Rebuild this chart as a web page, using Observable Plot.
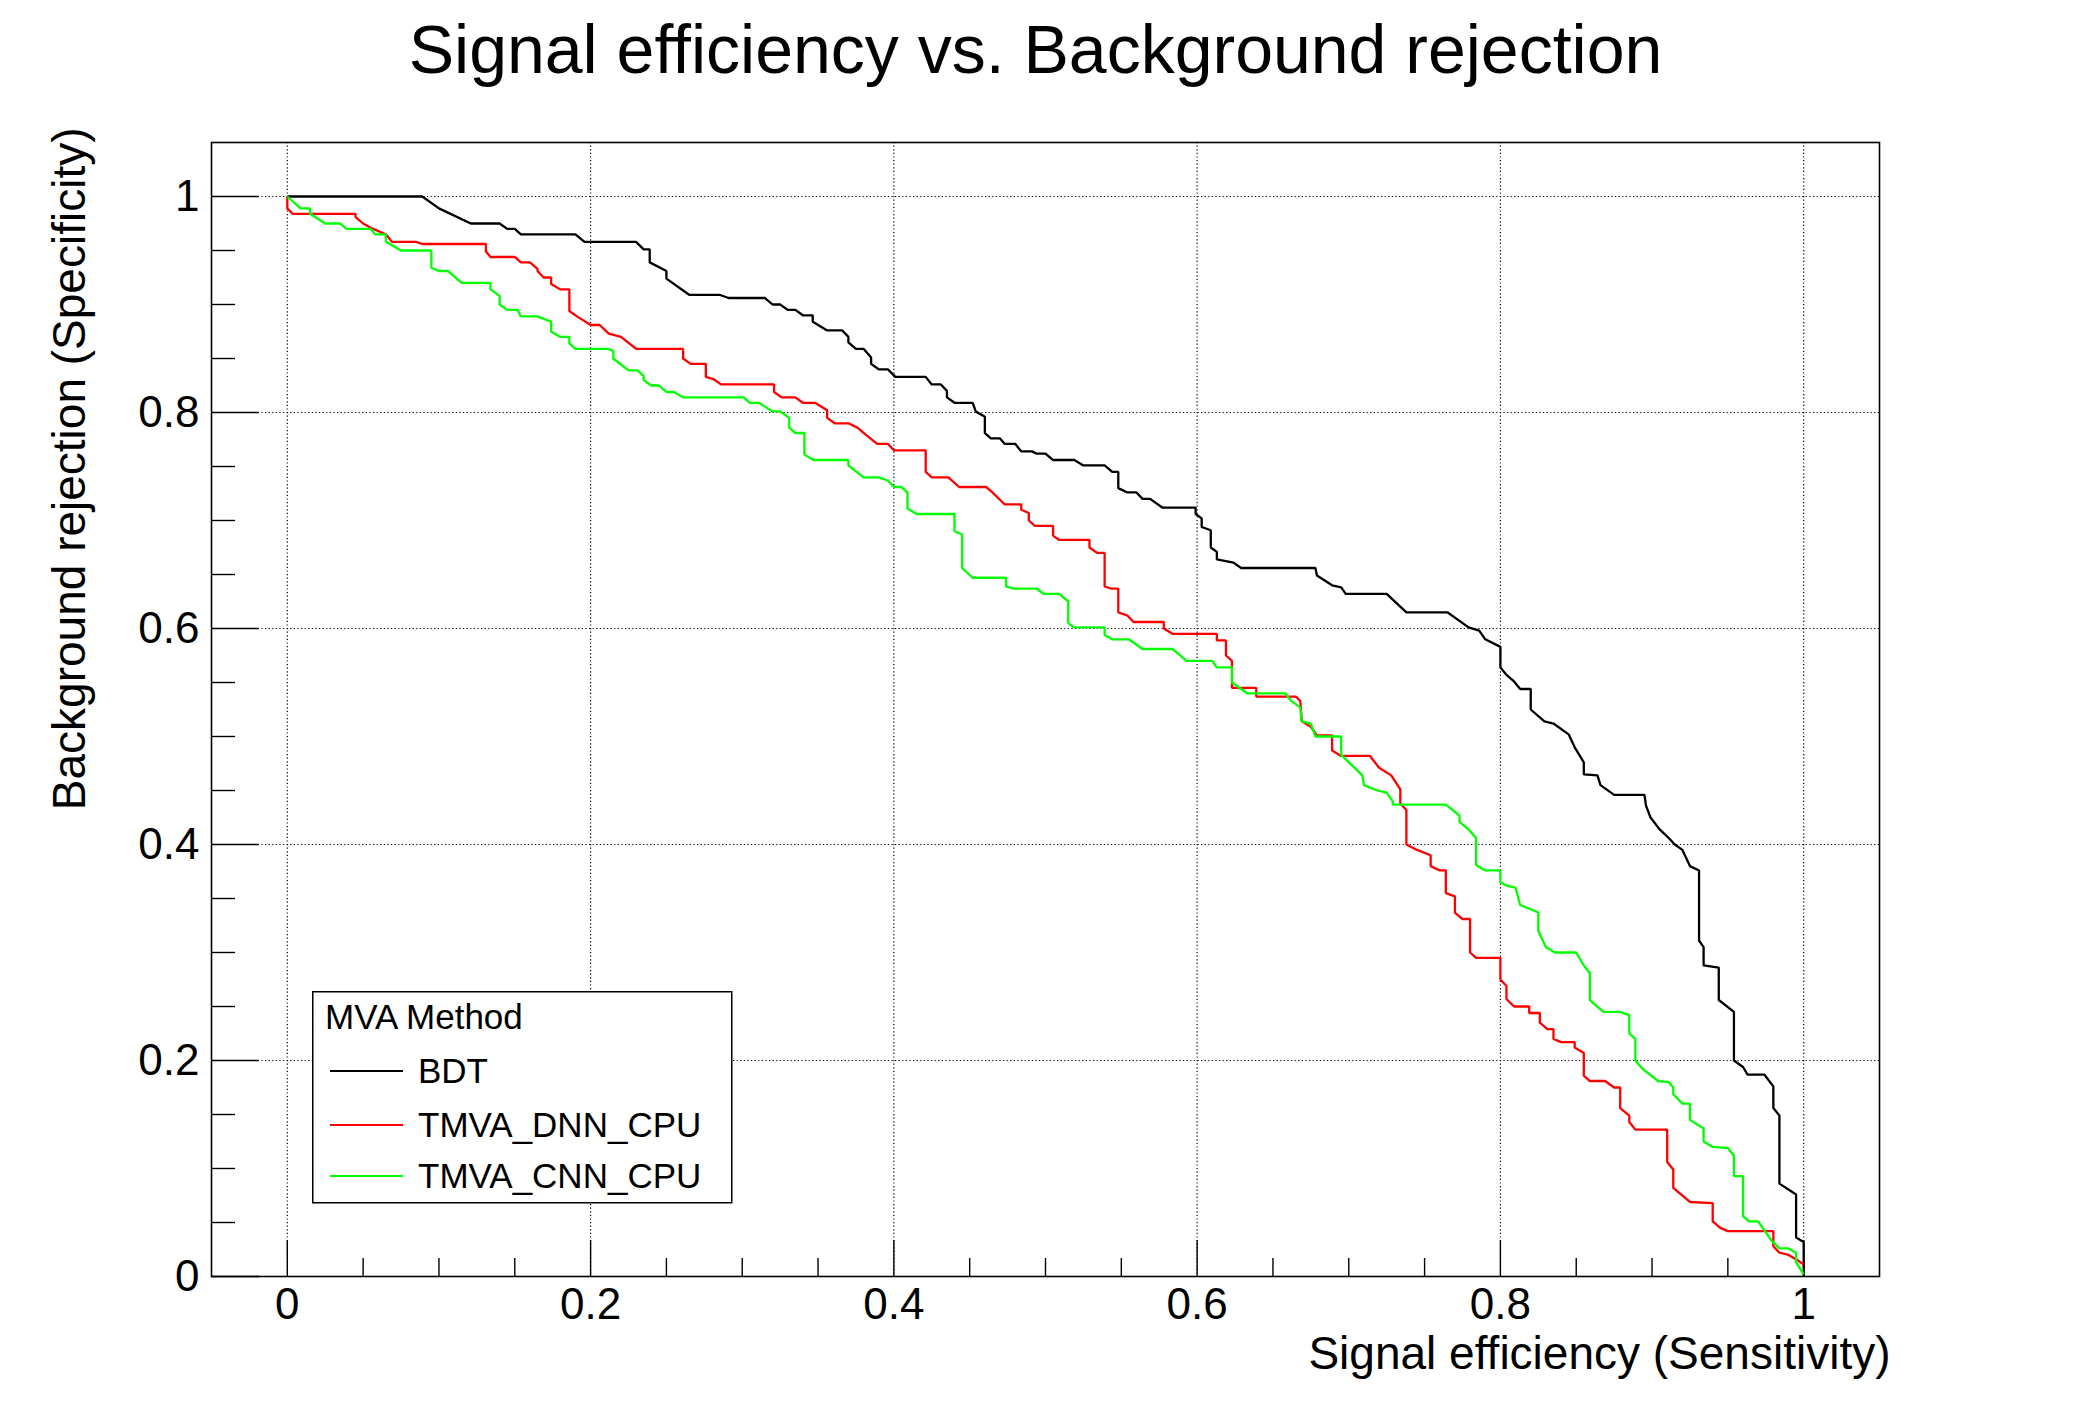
<!DOCTYPE html>
<html>
<head>
<meta charset="utf-8">
<script src="https://cdn.jsdelivr.net/npm/d3@7"></script>
<script src="https://cdn.jsdelivr.net/npm/@observablehq/plot@0.6"></script>
<style>
  html, body { margin: 0; padding: 0; background: #fff; }
  #wrap { position: relative; width: 2088px; height: 1416px; font-family: "Liberation Sans", Arial, Helvetica, sans-serif; }
  #legend { position: absolute; left: 312px; top: 991px; }
</style>
</head>
<body>
<div id="wrap"><div id="chart"></div><div id="legend"></div></div>
<script>
// ---- data ----
const chartTitle = "Signal efficiency vs. Background rejection";
const xTitle = "Signal efficiency (Sensitivity)";
const yTitle = "Background rejection (Specificity)";
const legendTitle = "MVA Method";
const methods = ["BDT", "TMVA_DNN_CPU", "TMVA_CNN_CPU"];
const methodColors = ["#000000", "#ff0000", "#00ff00"];
const xMajorTicks = [0, 0.2, 0.4, 0.6, 0.8, 1];
const yMajorTicks = [0, 0.2, 0.4, 0.6, 0.8, 1];

const bdt = [[0,1],[0.089,1],[0.1,0.989],[0.121,0.975],[0.140,0.975],[0.145,0.970],[0.150,0.970],[0.154,0.965],[0.190,0.965],[0.196,0.958],[0.230,0.958],[0.235,0.951],[0.239,0.951],[0.239,0.939],[0.250,0.931],[0.250,0.924],[0.265,0.909],[0.285,0.909],[0.291,0.906],[0.315,0.906],[0.320,0.900],[0.325,0.900],[0.330,0.895],[0.335,0.895],[0.340,0.890],[0.3465,0.890],[0.3465,0.884],[0.356,0.876],[0.366,0.876],[0.370,0.870],[0.370,0.865],[0.375,0.859],[0.380,0.859],[0.385,0.851],[0.385,0.845],[0.390,0.840],[0.396,0.840],[0.401,0.833],[0.421,0.833],[0.425,0.826],[0.431,0.826],[0.435,0.820],[0.435,0.814],[0.440,0.809],[0.452,0.809],[0.454,0.801],[0.460,0.796],[0.460,0.781],[0.464,0.776],[0.470,0.776],[0.473,0.771],[0.480,0.771],[0.484,0.764],[0.491,0.764],[0.494,0.762],[0.500,0.762],[0.505,0.756],[0.519,0.756],[0.525,0.751],[0.539,0.751],[0.544,0.745],[0.548,0.745],[0.548,0.730],[0.554,0.726],[0.560,0.726],[0.564,0.720],[0.569,0.720],[0.577,0.712],[0.599,0.712],[0.599,0.706],[0.603,0.702],[0.603,0.694],[0.609,0.691],[0.609,0.675],[0.613,0.671],[0.613,0.664],[0.624,0.661],[0.629,0.656],[0.678,0.656],[0.679,0.649],[0.689,0.640],[0.695,0.638],[0.698,0.632],[0.725,0.632],[0.738,0.615],[0.765,0.615],[0.779,0.601],[0.786,0.598],[0.790,0.590],[0.800,0.583],[0.800,0.564],[0.804,0.557],[0.809,0.551],[0.813,0.544],[0.820,0.544],[0.820,0.525],[0.829,0.514],[0.835,0.512],[0.845,0.502],[0.849,0.490],[0.855,0.476],[0.855,0.465],[0.864,0.464],[0.866,0.455],[0.875,0.446],[0.895,0.446],[0.896,0.436],[0.899,0.425],[0.905,0.414],[0.911,0.406],[0.915,0.400],[0.920,0.395],[0.925,0.380],[0.931,0.376],[0.931,0.311],[0.934,0.305],[0.934,0.288],[0.944,0.286],[0.944,0.256],[0.954,0.245],[0.954,0.200],[0.960,0.194],[0.963,0.187],[0.974,0.187],[0.980,0.176],[0.980,0.156],[0.984,0.149],[0.984,0.086],[0.995,0.076],[0.995,0.036],[1.0,0.032],[1.0,0.0]];

const dnn = [[0,1],[0,0.989],[0.0035,0.984],[0.045,0.984],[0.045,0.981],[0.050,0.975],[0.055,0.971],[0.065,0.965],[0.069,0.958],[0.085,0.958],[0.089,0.956],[0.131,0.956],[0.131,0.949],[0.134,0.944],[0.150,0.944],[0.154,0.939],[0.160,0.939],[0.165,0.933],[0.165,0.931],[0.169,0.925],[0.174,0.925],[0.174,0.919],[0.180,0.914],[0.186,0.914],[0.186,0.894],[0.191,0.889],[0.200,0.881],[0.206,0.881],[0.212,0.873],[0.220,0.870],[0.230,0.859],[0.261,0.859],[0.261,0.850],[0.266,0.845],[0.276,0.845],[0.276,0.833],[0.281,0.831],[0.286,0.826],[0.321,0.826],[0.321,0.819],[0.326,0.814],[0.335,0.814],[0.340,0.809],[0.348,0.809],[0.356,0.802],[0.356,0.795],[0.361,0.790],[0.370,0.790],[0.376,0.786],[0.381,0.780],[0.389,0.771],[0.396,0.771],[0.400,0.765],[0.421,0.765],[0.421,0.745],[0.425,0.740],[0.436,0.740],[0.443,0.731],[0.461,0.731],[0.465,0.726],[0.473,0.715],[0.484,0.715],[0.484,0.710],[0.489,0.707],[0.489,0.700],[0.493,0.695],[0.505,0.695],[0.505,0.686],[0.509,0.682],[0.529,0.682],[0.529,0.675],[0.534,0.670],[0.539,0.670],[0.539,0.639],[0.543,0.637],[0.548,0.637],[0.548,0.615],[0.554,0.612],[0.558,0.606],[0.578,0.606],[0.578,0.600],[0.584,0.595],[0.613,0.595],[0.613,0.589],[0.619,0.589],[0.619,0.575],[0.623,0.570],[0.623,0.545],[0.639,0.545],[0.639,0.537],[0.665,0.537],[0.668,0.533],[0.669,0.514],[0.675,0.509],[0.679,0.501],[0.689,0.501],[0.689,0.487],[0.695,0.482],[0.714,0.482],[0.720,0.471],[0.728,0.464],[0.734,0.451],[0.734,0.438],[0.738,0.432],[0.738,0.400],[0.745,0.395],[0.754,0.390],[0.754,0.380],[0.760,0.376],[0.764,0.376],[0.764,0.355],[0.770,0.352],[0.770,0.337],[0.775,0.331],[0.780,0.331],[0.780,0.300],[0.784,0.295],[0.800,0.295],[0.800,0.275],[0.804,0.269],[0.804,0.257],[0.809,0.250],[0.819,0.250],[0.819,0.244],[0.826,0.244],[0.826,0.235],[0.831,0.229],[0.835,0.229],[0.835,0.220],[0.840,0.217],[0.849,0.217],[0.849,0.212],[0.855,0.207],[0.855,0.186],[0.859,0.181],[0.869,0.181],[0.875,0.175],[0.879,0.175],[0.879,0.156],[0.885,0.149],[0.885,0.143],[0.889,0.136],[0.910,0.136],[0.910,0.106],[0.914,0.099],[0.914,0.082],[0.925,0.069],[0.940,0.068],[0.940,0.051],[0.945,0.045],[0.950,0.042],[0.980,0.042],[0.980,0.028],[0.984,0.022],[0.990,0.020],[0.996,0.015],[1.0,0.011]];

const cnn = [[0,1],[0.0087,0.989],[0.015,0.989],[0.015,0.984],[0.025,0.975],[0.035,0.975],[0.039,0.970],[0.055,0.970],[0.058,0.965],[0.065,0.965],[0.065,0.958],[0.075,0.950],[0.095,0.950],[0.095,0.934],[0.100,0.931],[0.106,0.931],[0.115,0.920],[0.134,0.920],[0.134,0.914],[0.140,0.908],[0.140,0.900],[0.145,0.895],[0.152,0.895],[0.154,0.889],[0.165,0.889],[0.174,0.884],[0.174,0.875],[0.180,0.870],[0.186,0.870],[0.186,0.864],[0.190,0.859],[0.211,0.859],[0.215,0.857],[0.215,0.850],[0.225,0.839],[0.231,0.839],[0.235,0.834],[0.235,0.830],[0.240,0.825],[0.245,0.825],[0.250,0.819],[0.255,0.819],[0.261,0.814],[0.301,0.814],[0.305,0.809],[0.311,0.809],[0.320,0.801],[0.325,0.801],[0.331,0.795],[0.331,0.786],[0.335,0.781],[0.341,0.781],[0.341,0.761],[0.347,0.756],[0.370,0.756],[0.370,0.751],[0.380,0.740],[0.390,0.740],[0.396,0.737],[0.400,0.731],[0.405,0.731],[0.409,0.726],[0.409,0.711],[0.415,0.706],[0.440,0.706],[0.440,0.690],[0.445,0.687],[0.445,0.656],[0.452,0.647],[0.474,0.647],[0.474,0.639],[0.479,0.637],[0.494,0.637],[0.499,0.632],[0.509,0.632],[0.515,0.625],[0.515,0.605],[0.519,0.601],[0.539,0.601],[0.539,0.594],[0.544,0.590],[0.555,0.590],[0.564,0.581],[0.584,0.581],[0.593,0.570],[0.610,0.570],[0.613,0.564],[0.623,0.564],[0.623,0.550],[0.633,0.540],[0.658,0.540],[0.662,0.533],[0.668,0.527],[0.669,0.514],[0.675,0.512],[0.678,0.500],[0.695,0.500],[0.695,0.483],[0.709,0.464],[0.710,0.455],[0.719,0.450],[0.725,0.448],[0.729,0.440],[0.729,0.437],[0.764,0.437],[0.773,0.427],[0.773,0.421],[0.779,0.414],[0.784,0.406],[0.784,0.381],[0.790,0.376],[0.800,0.376],[0.800,0.365],[0.804,0.362],[0.810,0.360],[0.813,0.344],[0.825,0.337],[0.825,0.320],[0.830,0.305],[0.836,0.300],[0.850,0.300],[0.855,0.288],[0.859,0.281],[0.859,0.256],[0.868,0.245],[0.879,0.245],[0.885,0.242],[0.885,0.225],[0.889,0.220],[0.889,0.200],[0.894,0.192],[0.904,0.181],[0.911,0.180],[0.914,0.175],[0.914,0.169],[0.920,0.160],[0.925,0.160],[0.925,0.145],[0.934,0.137],[0.934,0.125],[0.940,0.120],[0.950,0.119],[0.954,0.112],[0.954,0.093],[0.960,0.093],[0.960,0.056],[0.964,0.051],[0.970,0.051],[0.974,0.043],[0.979,0.033],[0.984,0.026],[0.990,0.026],[0.995,0.022],[0.995,0.013],[1.0,0.002]];

// ---- build ----
const W = 2088, H = 1416;
const mL = 211, mR = 209, mT = 142, mB = 140;
const plotW = W - mL - mR, plotH = H - mT - mB;
const seriesPoints = [bdt, dnn, cnn];
const rows = [];
methods.forEach((m, i) => seriesPoints[i].forEach(([x, y]) => rows.push({method: m, x, y})));
const xMinorTicks = d3.range(0, 1.0001, 0.05).filter(v => !xMajorTicks.some(t => Math.abs(t - v) < 1e-6));
const yMinorTicks = d3.range(0, 1.0001, 0.05).filter(v => !yMajorTicks.some(t => Math.abs(t - v) < 1e-6));
const fmt = d => String(+d.toFixed(2));
const fontFam = '"Liberation Sans", Arial, Helvetica, sans-serif';

const chart = Plot.plot({
  width: W, height: H,
  marginLeft: mL, marginRight: mR, marginTop: mT, marginBottom: mB,
  style: {fontFamily: fontFam, background: "white", color: "black", overflow: "visible"},
  x: {domain: [-0.05, 1.05]},
  y: {domain: [0, 1.05]},
  color: {domain: methods, range: methodColors},
  marks: [
    Plot.gridX(xMajorTicks, {stroke: "black", strokeOpacity: 1, strokeWidth: 1.2, strokeDasharray: "1.2,2.4"}),
    Plot.gridY(yMajorTicks, {stroke: "black", strokeOpacity: 1, strokeWidth: 1.2, strokeDasharray: "1.2,2.4"}),
    Plot.ruleX(xMajorTicks, {x: d => d, insetTop: plotH - 36, stroke: "black", strokeWidth: 1.4}),
    Plot.ruleX(xMinorTicks, {x: d => d, insetTop: plotH - 18, stroke: "black", strokeWidth: 1.4}),
    Plot.ruleY(yMajorTicks, {y: d => d, insetRight: plotW - 48, stroke: "black", strokeWidth: 1.4}),
    Plot.ruleY(yMinorTicks, {y: d => d, insetRight: plotW - 24, stroke: "black", strokeWidth: 1.4}),
    Plot.line(rows, {x: "x", y: "y", z: "method", stroke: "method", strokeWidth: 2.3, strokeLinejoin: "miter", strokeLinecap: "butt"}),
    Plot.frame({stroke: "black", strokeWidth: 1.6}),
    Plot.axisX({ticks: xMajorTicks, tickSize: 0, tickPadding: 11, fontSize: 44, tickFormat: fmt, label: null}),
    Plot.axisY({ticks: yMajorTicks, tickSize: 0, tickPadding: 12, fontSize: 44, tickFormat: fmt, label: null}),
    Plot.text([chartTitle], {text: d => d, frameAnchor: "top", lineAnchor: "bottom", dy: -70, dx: -10, fontSize: 68}),
    Plot.text([xTitle], {text: d => d, frameAnchor: "bottom-right", textAnchor: "end", lineAnchor: "bottom", dx: 11, dy: 92, fontSize: 46}),
    Plot.text([yTitle], {text: d => d, frameAnchor: "top-left", textAnchor: "end", lineAnchor: "bottom", rotate: -90, dx: -127, dy: -15, fontSize: 46})
  ]
});
document.getElementById("chart").appendChild(chart);

// ---- legend (built from the series arrays) ----
const lg = d3.select("#legend").append("svg")
  .attr("width", 421).attr("height", 213)
  .style("font-family", fontFam);
lg.append("rect").attr("x", 0.75).attr("y", 0.75).attr("width", 419).attr("height", 211)
  .attr("fill", "white").attr("stroke", "black").attr("stroke-width", 1.5);
lg.append("text").attr("x", 13).attr("y", 38).attr("font-size", 35).text(legendTitle);
const rowLineY = [80, 134, 185];
methods.forEach((m, i) => {
  lg.append("line").attr("x1", 18).attr("x2", 91).attr("y1", rowLineY[i]).attr("y2", rowLineY[i])
    .attr("stroke", methodColors[i]).attr("stroke-width", 2.2);
  lg.append("text").attr("x", 106).attr("y", rowLineY[i] + 12).attr("font-size", 35).text(m);
});
</script>
</body>
</html>
